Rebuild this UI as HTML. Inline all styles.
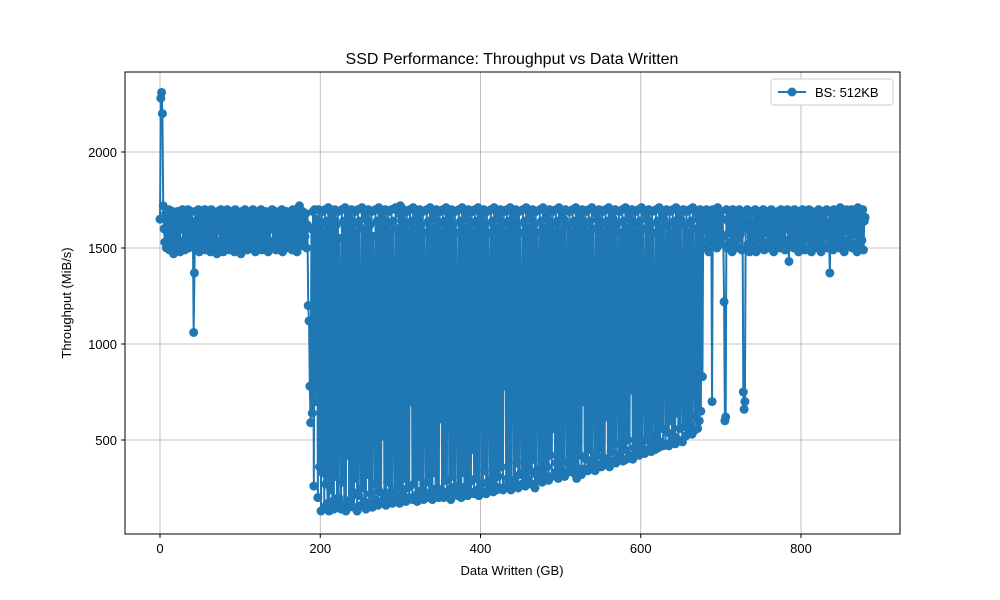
<!DOCTYPE html>
<html><head><meta charset="utf-8"><style>
html,body{margin:0;padding:0;background:#fff;}
svg{display:block;font-family:"Liberation Sans","DejaVu Sans",sans-serif;}
</style></head><body>
<svg id="chart" width="1000" height="600" viewBox="0 0 1000 600">
<text x="512" y="64" text-anchor="middle" font-size="16" fill="#000">SSD Performance: Throughput vs Data Written</text>
<g id="grid"></g>
<g id="series"></g>
<rect x="125" y="72" width="775" height="462" fill="none" stroke="#000" stroke-width="1"/>
<g id="xticks"></g>
<g id="yticks"></g>
<text x="512" y="575" text-anchor="middle" font-size="13">Data Written (GB)</text>
<text transform="translate(71,303) rotate(-90)" text-anchor="middle" font-size="13">Throughput (MiB/s)</text>
<g>
<rect x="771" y="79" width="122" height="26" rx="3" fill="#fff" stroke="#ccc"/>
<line x1="778" y1="92" x2="806" y2="92" stroke="#1f77b4" stroke-width="2"/>
<circle cx="792" cy="92" r="4.5" fill="#1f77b4"/>
<text x="815" y="97" font-size="13">BS: 512KB</text>
</g>
</svg>
<script>
const stepGB = 1;
const throughput = [
1650,2280,2310,2200,1720,1600,1530,1680,1500,1650,1560,1700,1490,1620,1660,1520,1690,1470,1640,1580,
1670,1510,1690,1540,1620,1480,1660,1600,1700,1520,1640,1490,1680,1560,1610,1700,1500,1650,1530,1690,
1570,1620,1060,1370,1690,1500,1640,1530,1700,1480,1660,1590,1620,1510,1680,1550,1700,1490,1640,1570,
1690,1520,1650,1480,1700,1560,1620,1500,1680,1540,1660,1470,1690,1590,1640,1510,1700,1530,1620,1480,
1680,1550,1650,1500,1700,1570,1630,1490,1690,1520,1660,1540,1610,1480,1700,1560,1640,1510,1680,1590,
1620,1470,1690,1530,1650,1500,1700,1560,1640,1490,1680,1520,1660,1580,1610,1500,1700,1540,1650,1480,
1690,1560,1620,1510,1680,1530,1700,1490,1650,1570,1640,1500,1690,1550,1620,1480,1680,1530,1660,1600,
1700,1510,1640,1540,1690,1490,1650,1570,1620,1500,1680,1530,1700,1480,1660,1560,1640,1510,1690,1550,
1620,1500,1680,1540,1650,1490,1700,1570,1640,1520,1690,1480,1660,1550,1720,1510,1640,1580,1690,1530,
1650,1560,1680,1500,1620,1200,1120,780,590,1600,640,1690,260,1700,700,1560,1650,200,1700,360,
1620,130,1690,330,1580,150,1700,270,1640,170,1710,130,1600,240,1680,180,1650,140,1700,310,
1620,160,1690,200,1550,1100,140,1700,280,1640,170,1710,130,1600,420,1680,150,1650,190,1700,
230,1620,150,1690,300,1580,130,1700,210,1640,800,160,1710,250,1600,180,1680,140,1650,320,
1700,170,1620,220,1690,150,1560,1300,190,1700,270,1640,160,1710,230,1600,180,1680,520,1650,
200,1700,160,1620,280,1690,190,1580,230,1700,170,1640,950,210,1710,180,1600,260,1680,170,
1720,220,1650,190,1700,300,1620,180,1690,250,1580,200,1700,700,1640,190,1710,270,1600,210,
1680,180,1650,310,1700,200,1620,240,1690,190,1580,1250,220,1700,280,1640,200,1710,230,1600,
190,1680,330,1650,210,1700,250,1620,200,1690,610,1580,230,1700,200,1640,290,1710,210,1600,
1680,240,1650,190,1700,310,1620,220,1690,260,1580,1000,210,1700,250,1640,200,1710,330,1600,
220,1680,260,1650,210,1700,280,1620,230,1690,450,1580,220,1700,300,1640,240,1710,210,1600,
1680,270,1650,230,1700,340,1620,220,1690,280,1580,1150,240,1700,300,1640,230,1710,260,1600,
240,1680,310,1650,250,1700,360,1620,240,1690,780,1580,260,1700,300,1640,270,1710,240,1600,
1680,290,1650,260,1700,380,1620,250,1690,320,1580,900,270,1700,330,1640,260,1710,300,1600,
280,1680,340,1650,270,1700,400,1620,250,1690,320,1580,1300,290,1700,350,1640,280,1710,320,
1600,300,1680,360,1650,290,1700,420,1620,310,1690,560,1580,330,1700,380,1640,300,1710,350,
1600,320,1680,390,1650,310,1700,1200,330,1620,380,1690,340,1580,420,1700,330,1640,380,1710,
300,1600,350,1680,420,1650,320,1700,700,1620,350,1690,400,1580,340,1700,450,1640,360,1710,
390,1600,1050,340,1680,420,1650,370,1700,460,1620,360,1690,410,1580,380,1700,620,1640,400,
1710,360,1600,440,1680,390,1650,480,1700,380,1620,1280,420,1690,400,1580,470,1700,390,1640,
450,1710,400,1600,500,1680,420,1650,760,1700,400,1620,460,1690,430,1580,510,1700,420,1640,
470,1710,440,1600,1180,430,1680,500,1650,450,1700,540,1620,440,1690,480,1580,880,450,1700,
520,1640,460,1710,490,1600,560,1680,470,1650,1350,480,1700,540,1620,470,1690,600,1580,500,
1700,520,1640,480,1710,640,1600,500,1680,560,1650,1050,490,1700,570,1620,520,1690,600,1580,
540,1700,580,1640,530,1710,1180,550,1600,620,1680,560,1650,600,1700,650,1620,830,1690,1600,
1660,1500,1700,1540,1650,1480,1620,1580,1690,700,1700,1520,1640,1560,1680,1500,1710,1540,1620,1580,
1690,1520,1650,1560,1220,600,620,1700,1500,1640,1580,1690,1530,1660,1480,1700,1560,1620,1510,1680,
1540,1650,1500,1700,1570,1620,1490,1680,750,660,700,1650,1600,1700,1520,1640,1480,1690,1560,1620,
1510,1680,1540,1700,1480,1650,1590,1620,1500,1690,1560,1640,1520,1700,1490,1660,1580,1610,1530,1690,
1500,1650,1560,1700,1540,1620,1480,1680,1590,1640,1510,1690,1550,1660,1500,1700,1570,1620,1520,1680,
1490,1650,1600,1700,1540,1430,1690,1510,1640,1570,1680,1500,1700,1560,1620,1530,1690,1480,1660,1590,
1640,1510,1700,1550,1620,1490,1680,1570,1650,1500,1700,1540,1610,1480,1690,1560,1640,1520,1680,1590,
1620,1500,1700,1540,1660,1480,1690,1580,1640,1510,1680,1560,1700,1500,1620,1550,1370,1690,1530,1650,
1490,1700,1570,1620,1510,1680,1540,1660,1500,1710,1560,1640,1520,1690,1480,1650,1590,1700,1540,1620,
1510,1680,1560,1700,1500,1640,1580,1690,1520,1650,1480,1710,1560,1620,1500,1680,1540,1700,1490,1640,
1660
];
const xTickLabels = [0,200,400,600,800];
const yTickLabels = [500,1000,1500,2000];

const NS = "http://www.w3.org/2000/svg";
const X = v => 160 + v * (801 - 160) / 800;
const Y = v => 536 - v * 0.192;
function mk(tag, attrs, parent){const e=document.createElementNS(NS,tag);for(const k in attrs)e.setAttribute(k,attrs[k]);parent.appendChild(e);return e;}
const grid=document.getElementById('grid'), xt=document.getElementById('xticks'), yt=document.getElementById('yticks'), ser=document.getElementById('series');
xTickLabels.forEach(v=>{
  const gl=mk('line',{x1:X(v),x2:X(v),y1:72,y2:534,stroke:'#b0b0b0','stroke-width':0.8},grid);
  
  
  const tk=mk('line',{x1:X(v),x2:X(v),y1:534,y2:538,stroke:'#000'},xt);
  
  
  const t=mk('text',{x:X(v),y:553,'text-anchor':'middle','font-size':13},xt);
  t.textContent=v;
  
  
});
yTickLabels.forEach(v=>{
  const gl=mk('line',{x1:125,x2:900,y1:Y(v),y2:Y(v),stroke:'#b0b0b0','stroke-width':0.8},grid);
  
  
  const tk=mk('line',{x1:121,x2:125,y1:Y(v),y2:Y(v),stroke:'#000'},yt);
  
  
  const t=mk('text',{x:117,y:Y(v)+5,'text-anchor':'end','font-size':13},yt);
  t.textContent=v;
  
  
});
const pts=throughput.map((v,i)=>X(i*stepGB).toFixed(2)+','+Y(v).toFixed(2)).join(' ');
const pl=mk('polyline',{points:pts,fill:'none',stroke:'#1f77b4','stroke-width':2,'stroke-linejoin':'round'},ser);


throughput.forEach((v,i)=>{
  const c=mk('circle',{cx:X(i*stepGB),cy:Y(v),r:4.5,fill:'#1f77b4'},ser);
  
  
});
</script>
</body></html>
